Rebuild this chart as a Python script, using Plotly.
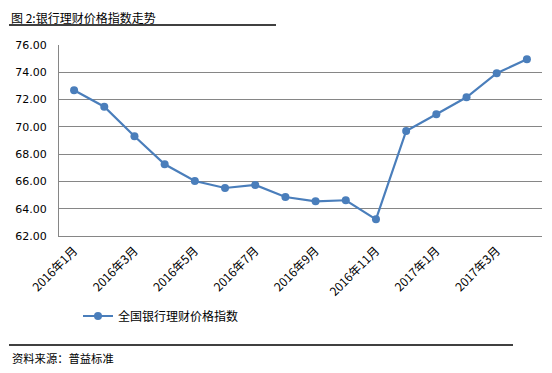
import plotly.graph_objects as go

months = ["2016年1月", "2016年2月", "2016年3月", "2016年4月", "2016年5月", "2016年6月",
          "2016年7月", "2016年8月", "2016年9月", "2016年10月", "2016年11月", "2016年12月",
          "2017年1月", "2017年2月", "2017年3月", "2017年4月"]
index_values = [72.68, 71.48, 69.31, 67.26, 66.03, 65.52, 65.74, 64.86, 64.54, 64.62,
                63.22, 69.70, 70.92, 72.17, 73.93, 74.95]
y_ticks = [62, 64, 66, 68, 70, 72, 74, 76]
series_name = "全国银行理财价格指数"
title_text = "图 2:银行理财价格指数走势"
source_text = "资料来源：普益标准"

CJK = "Noto Sans CJK SC"
NUM = "DejaVu Sans"
OFF = 8  # page body margin offset
W, H = 552 - OFF, 373 - OFF
L, R, T, B = 59 - OFF, 10, 45 - OFF, 137
pw = W - L - R
ph = H - T - B

def px(x):
    return (x - OFF - L) / pw

def py(y):
    return (H - B - (y - OFF)) / ph

fig = go.Figure()
fig.add_trace(go.Scatter(
    x=months, y=index_values, mode="lines+markers", name=series_name,
    line=dict(color="#4A7EBB", width=2.2),
    marker=dict(color="#4A7EBB", size=8),
))

fig.update_layout(
    width=W, height=H,
    margin=dict(l=L, r=R, t=T, b=B, autoexpand=False),
    paper_bgcolor="white", plot_bgcolor="white",
    font=dict(family=CJK, size=12, color="black"),
    showlegend=True,
    legend=dict(orientation="h", x=px(78), y=py(316), xanchor="left", yanchor="middle",
                itemwidth=30,
                font=dict(family=CJK, size=12, color="black"), bgcolor="rgba(0,0,0,0)"),
    xaxis=dict(type="category", range=[-0.5, 15.5], tickvals=months[::2], ticktext=months[::2],
               tickangle=-45, showgrid=False, showline=True, linecolor="#868686", linewidth=1,
               ticks="outside", ticklen=2, tickcolor="rgba(0,0,0,0)", automargin=False,
               tickfont=dict(family=CJK, size=12, color="black")),
    yaxis=dict(range=[62, 76], tickvals=y_ticks, ticktext=[f"{v:.2f}" for v in y_ticks],
               showgrid=True, gridcolor="#868686", gridwidth=1, showline=True,
               linecolor="#868686", linewidth=1, ticks="outside", ticklen=9,
               tickcolor="rgba(0,0,0,0)", zeroline=False, automargin=False,
               tickfont=dict(family=NUM, size=11, color="black")),
)

fig.add_annotation(text=title_text, xref="paper", yref="paper", x=px(10), y=py(8),
                   xanchor="left", yanchor="top", showarrow=False, borderpad=0,
                   font=dict(family=CJK, size=12, color="black"))
fig.add_annotation(text=source_text, xref="paper", yref="paper", x=px(10), y=py(358),
                   xanchor="left", yanchor="middle", showarrow=False,
                   font=dict(family=CJK, size=11.3, color="black"))
fig.add_shape(type="line", xref="paper", yref="paper", x0=px(9), x1=px(276), y0=py(25), y1=py(25),
              line=dict(color="black", width=1.5))
fig.add_shape(type="line", xref="paper", yref="paper", x0=px(9), x1=px(513), y0=py(345), y1=py(345),
              line=dict(color="black", width=1.5))

fig.write_html("out.html")
